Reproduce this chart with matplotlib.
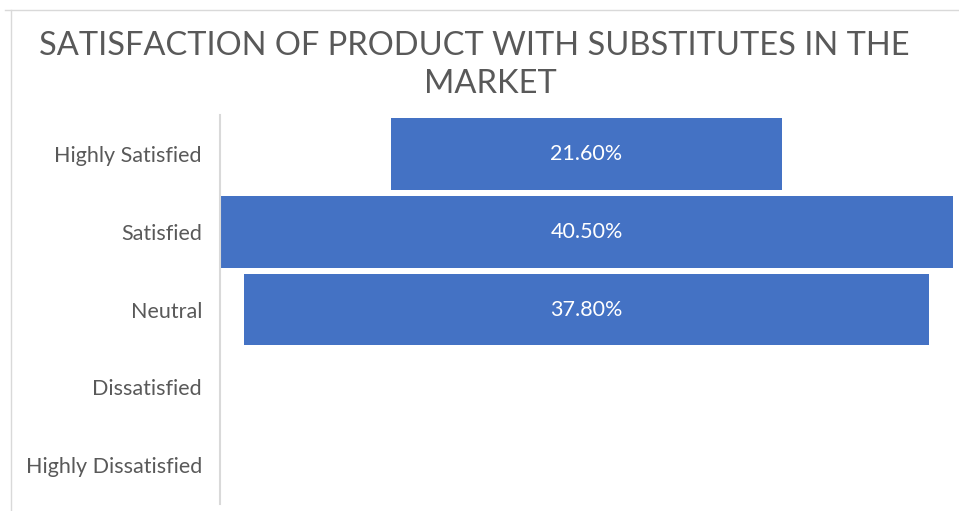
import matplotlib
matplotlib.use("Agg")
import matplotlib.pyplot as plt
import numpy as np

categories = ["Highly Satisfied", "Satisfied", "Neutral", "Dissatisfied", "Highly Dissatisfied"]
shares = [21.6, 40.5, 37.8, 0.0, 0.0]
value_labels = ["21.60%", "40.50%", "37.80%", "", ""]

bar_color = "#4472C4"
text_color = "#595959"

fig = plt.figure(figsize=(9.59, 5.11), dpi=100)
ax = fig.add_axes([220 / 959, 7 / 511, 733 / 959, 389 / 511])

# funnel: each bar centred on zero
y = np.arange(len(categories))
vals = np.array(shares)
ax.barh(y, vals, left=-vals / 2, height=0.925, color=bar_color)

for yi, v, lab in zip(y, vals, value_labels):
    if lab:
        ax.text(0, yi, lab, ha="center", va="center", color="white",
                fontsize=15.5, family="Lato")

half = max(shares) / 2
ax.set_xlim(-half, half)
ax.set_ylim(len(categories) - 0.5, -0.5)
ax.set_yticks(y)
ax.set_yticklabels(categories, fontsize=15.5, color=text_color, family="Lato")
ax.tick_params(axis="y", length=0, pad=13)
ax.set_xticks([])

for side in ["top", "right", "bottom"]:
    ax.spines[side].set_visible(False)
ax.spines["left"].set_color("#D9D9D9")
ax.spines["left"].set_linewidth(1.5)

fig.text(474 / 959, 1 - 46 / 511, "SATISFACTION OF PRODUCT WITH SUBSTITUTES IN THE",
         ha="center", va="center", fontsize=23.5, color=text_color, family="Lato")
fig.text(490 / 959, 1 - 84 / 511, "MARKET",
         ha="center", va="center", fontsize=23.5, color=text_color, family="Lato")

# chart area outline
fig.add_artist(plt.Line2D([5 / 959, 1], [1 - 10 / 511, 1 - 10 / 511], color="#D9D9D9", lw=1))
fig.add_artist(plt.Line2D([11 / 959, 11 / 959], [0, 1 - 10 / 511], color="#D9D9D9", lw=1))

fig.savefig("out.png", dpi=100)
